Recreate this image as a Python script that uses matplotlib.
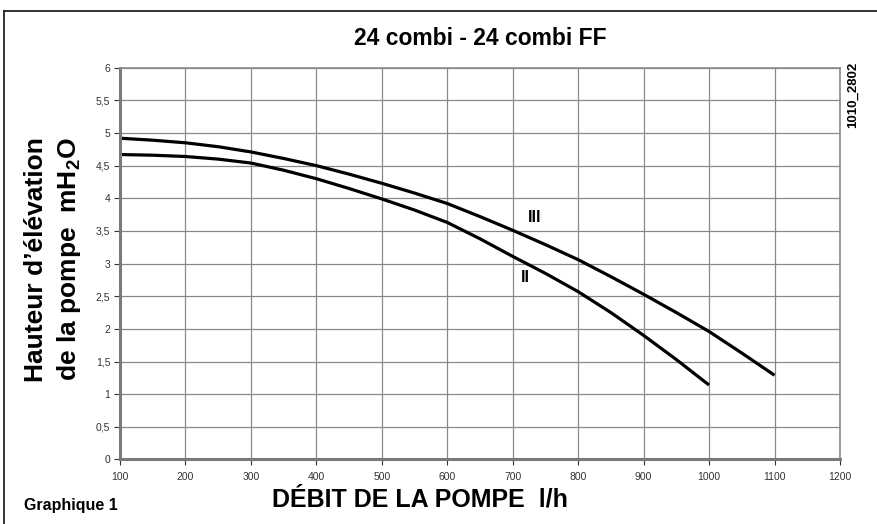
import matplotlib
matplotlib.use('Agg')
import matplotlib.pyplot as plt
from matplotlib.lines import Line2D

plt.rcParams['font.family'] = ['Liberation Sans', 'DejaVu Sans']
plt.rcParams['mathtext.default'] = 'regular'

# pump curves (every 50 l/h)
flow = [100, 150, 200, 250, 300, 350, 400, 450, 500, 550, 600, 650,
        700, 750, 800, 850, 900, 950, 1000, 1050, 1100]
head_III = [4.92, 4.89, 4.85, 4.79, 4.71, 4.61, 4.50, 4.37, 4.23, 4.08, 3.92, 3.72,
            3.51, 3.29, 3.06, 2.80, 2.53, 2.25, 1.96, 1.63, 1.29]
head_II = [4.67, 4.66, 4.64, 4.60, 4.54, 4.43, 4.30, 4.15, 3.99, 3.82, 3.63, 3.38,
           3.11, 2.85, 2.57, 2.25, 1.90, 1.53, 1.14]

x_ticks = list(range(100, 1201, 100))
y_ticks = [0, 0.5, 1, 1.5, 2, 2.5, 3, 3.5, 4, 4.5, 5, 5.5, 6]
y_tick_labels = ['0', '0,5', '1', '1,5', '2', '2,5', '3', '3,5', '4', '4,5', '5', '5,5', '6']

fig = plt.figure(figsize=(8.78, 5.24), dpi=100)
ax = fig.add_axes([0.1367, 0.1231, 0.82, 0.7477])

ax.plot(flow, head_III, color='black', lw=2.3, solid_capstyle='butt', solid_joinstyle='round')
ax.plot(flow[:len(head_II)], head_II, color='black', lw=2.3, solid_capstyle='butt',
        solid_joinstyle='round')

ax.text(734, 3.71, 'III', fontsize=11.5, fontweight='bold', ha='center', va='center')
ax.text(719, 2.79, 'II', fontsize=11.5, fontweight='bold', ha='center', va='center')

ax.set_xlim(100, 1200)
ax.set_ylim(0, 6)
ax.set_xticks(x_ticks)
ax.set_yticks(y_ticks)
ax.set_yticklabels(y_tick_labels)
ax.tick_params(labelsize=7.5, colors='#333333', length=4, width=0.8, pad=3)
ax.tick_params(axis='x', pad=5)
ax.grid(True, color='#8a8a8a', lw=0.9)
ax.set_axisbelow(True)

for side in ['top', 'right']:
    ax.spines[side].set_color('#8a8a8a')
    ax.spines[side].set_linewidth(1.2)
for side in ['left', 'bottom']:
    ax.spines[side].set_color('#7a7a7a')
    ax.spines[side].set_linewidth(2.2)

# titles and labels
fig.text(0.547, 0.927, '24 combi - 24 combi FF', fontsize=16.5, fontweight='bold',
         ha='center', va='center')
fig.text(0.041, 0.505, "Hauteur d\u2019élévation", fontsize=19, fontweight='bold',
         rotation=90, ha='center', va='center')
fig.text(0.079, 0.505, 'de la pompe  mH$_2$O', fontsize=19, fontweight='bold',
         rotation=90, ha='center', va='center')
fig.text(0.478, 0.046, 'DÉBIT DE LA POMPE  l/h', fontsize=18, fontweight='bold',
         ha='center', va='center')
fig.text(0.027, 0.036, 'Graphique 1', fontsize=11.5, fontweight='bold', ha='left', va='center')
fig.text(0.972, 0.818, '1010_2802', fontsize=9.5, fontweight='bold', rotation=90,
         ha='center', va='center')

# outer frame
fig.add_artist(Line2D([0.0046, 1.0], [0.979, 0.979], color='#222222', lw=1.3))
fig.add_artist(Line2D([0.0046, 0.0046], [0.0, 0.979], color='#222222', lw=1.3))

fig.savefig('out.png', dpi=100)
